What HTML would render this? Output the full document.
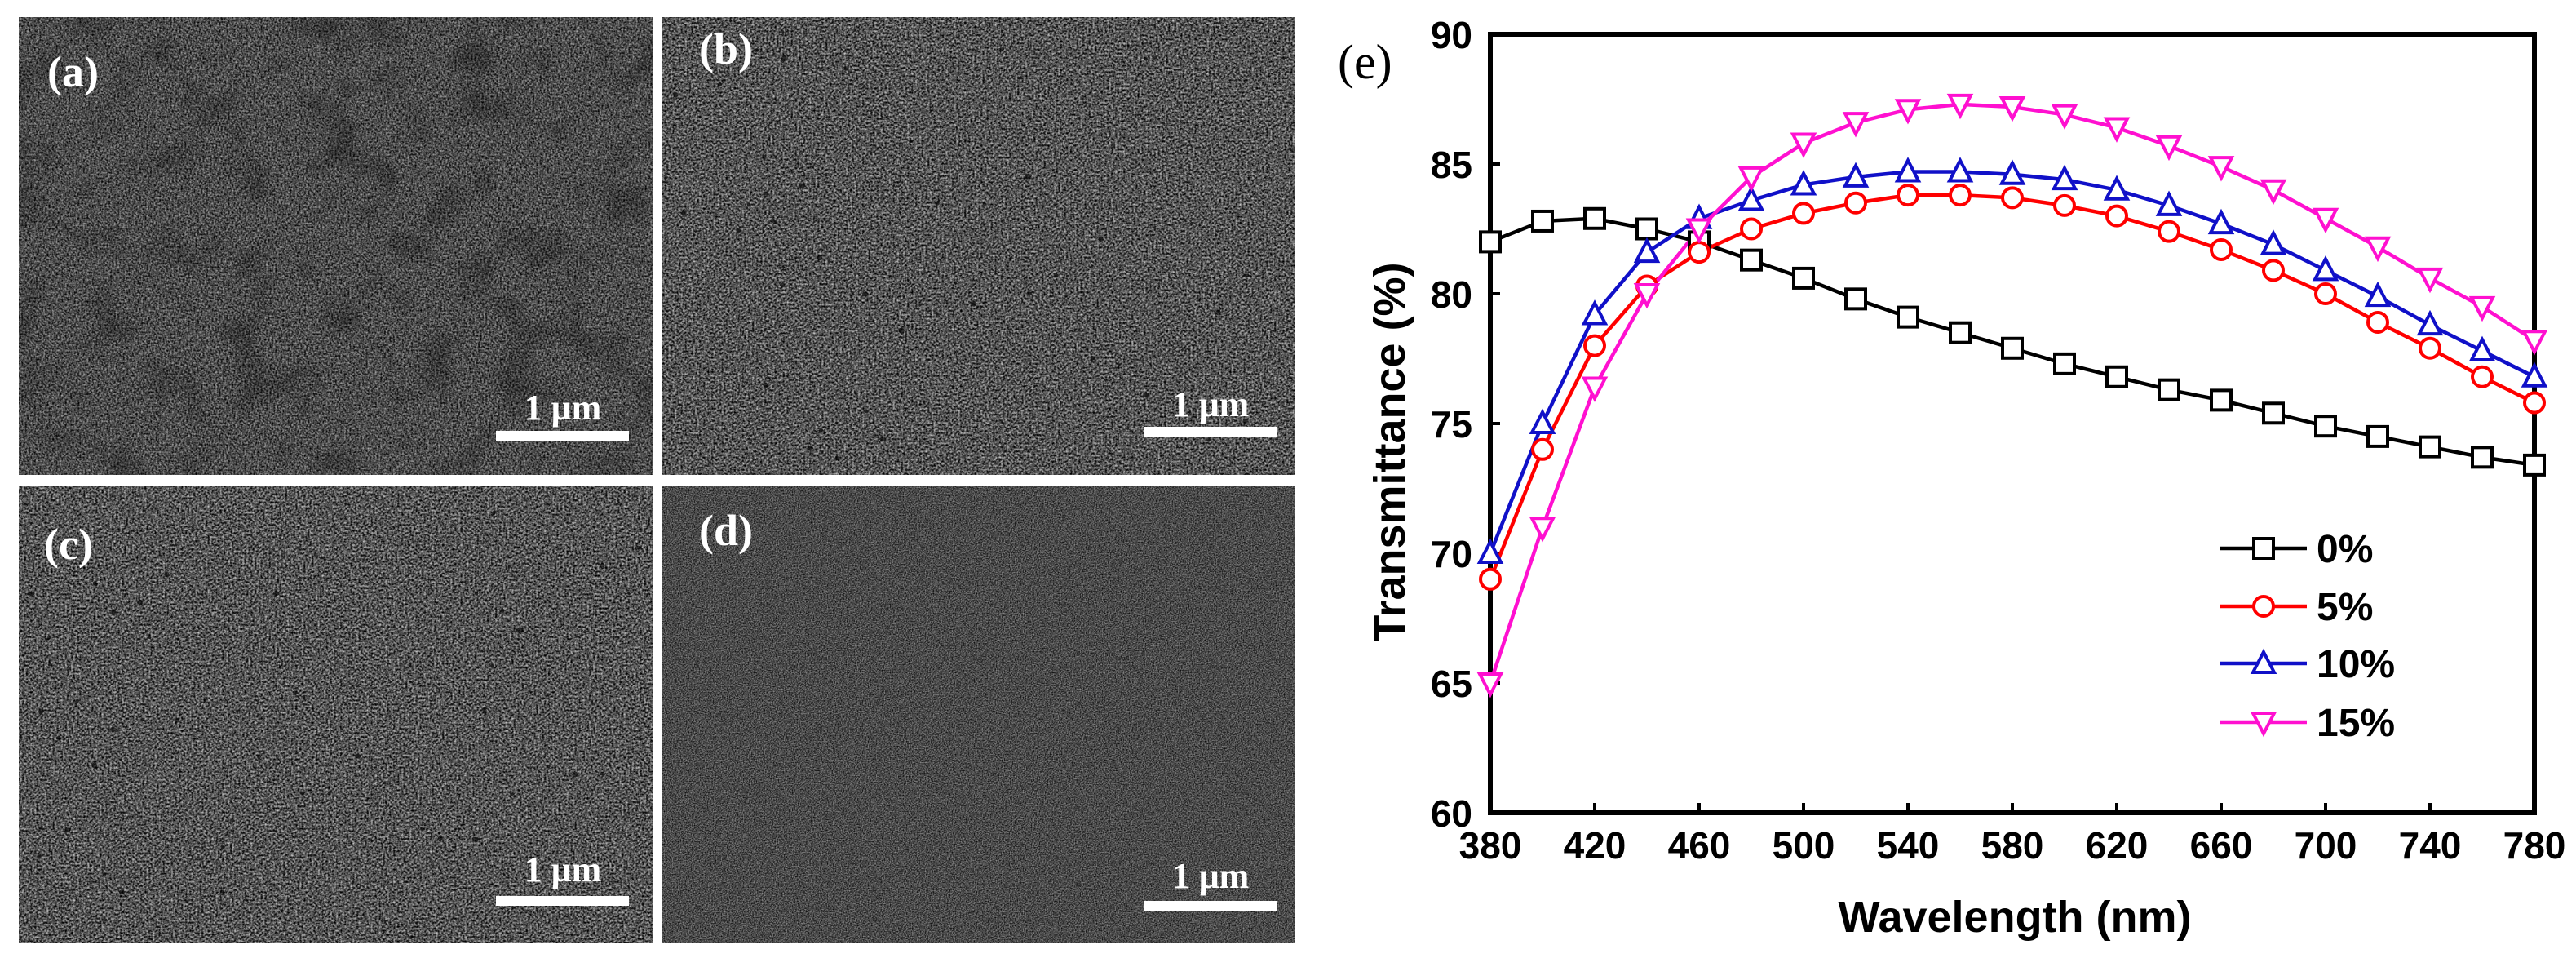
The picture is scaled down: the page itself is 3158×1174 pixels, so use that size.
<!DOCTYPE html>
<html><head><meta charset="utf-8">
<style>
html,body{margin:0;padding:0;background:#fff;}
body{width:3158px;height:1174px;position:relative;overflow:hidden;font-family:"Liberation Sans",sans-serif;}
svg{position:absolute;left:0;top:0;}
</style></head>
<body>
<svg width="3158" height="1174" viewBox="0 0 3158 1174">
<defs>
  <filter id="semA" x="0" y="0" width="100%" height="100%" color-interpolation-filters="sRGB">
    <feTurbulence type="fractalNoise" baseFrequency="0.45" numOctaves="2" seed="3" result="n"/>
    <feColorMatrix in="n" type="matrix" values="1.0 0 0 0 -0.2  1.0 0 0 0 -0.2  1.0 0 0 0 -0.2  0 0 0 0 1" result="g"/>
    <feTurbulence type="fractalNoise" baseFrequency="0.018" numOctaves="2" seed="7" result="b"/>
    <feColorMatrix in="b" type="matrix" values="1 0 0 0 0  1 0 0 0 0  1 0 0 0 0  0 0 0 0 1" result="bg"/>
    <feComponentTransfer in="bg" result="bm"><feFuncR type="table" tableValues="1 1 1 1 0.85 0.7 0.55"/><feFuncG type="table" tableValues="1 1 1 1 0.85 0.7 0.55"/><feFuncB type="table" tableValues="1 1 1 1 0.85 0.7 0.55"/></feComponentTransfer>
    <feBlend in="g" in2="bm" mode="multiply"/>
  </filter>
  <filter id="semB" x="0" y="0" width="100%" height="100%" color-interpolation-filters="sRGB">
    <feTurbulence type="fractalNoise" baseFrequency="0.4" numOctaves="2" seed="11" result="n"/>
    <feColorMatrix in="n" type="matrix" values="1.2 0 0 0 -0.27  1.2 0 0 0 -0.27  1.2 0 0 0 -0.27  0 0 0 0 1" result="g"/>
    <feTurbulence type="fractalNoise" baseFrequency="0.09" numOctaves="1" seed="5" result="b"/>
    <feColorMatrix in="b" type="matrix" values="1 0 0 0 0  1 0 0 0 0  1 0 0 0 0  0 0 0 0 1" result="bg"/>
    <feComponentTransfer in="bg" result="bm"><feFuncR type="discrete" tableValues="1 1 1 1 1 1 0.35 0.25"/><feFuncG type="discrete" tableValues="1 1 1 1 1 1 0.35 0.25"/><feFuncB type="discrete" tableValues="1 1 1 1 1 1 0.35 0.25"/></feComponentTransfer>
    <feBlend in="g" in2="bm" mode="multiply"/>
  </filter>
  <filter id="semD" x="0" y="0" width="100%" height="100%" color-interpolation-filters="sRGB">
    <feTurbulence type="fractalNoise" baseFrequency="0.7" numOctaves="1" seed="2" result="n"/>
    <feColorMatrix in="n" type="matrix" values="0.9 0 0 0 -0.16  0.9 0 0 0 -0.16  0.9 0 0 0 -0.16  0 0 0 0 1"/>
  </filter>
</defs>

<g>
  <rect x="23" y="21" width="777" height="561" fill="#4a4a4a" filter="url(#semA)"/>
  <text x="58" y="106" fill="#fff" font-family="Liberation Serif, serif" font-weight="bold" font-size="54">(a)</text>
  <text x="690" y="514" fill="#fff" text-anchor="middle" font-family="Liberation Serif, serif" font-weight="bold" font-size="44">1 μm</text>
  <rect x="608" y="528" width="163" height="12" fill="#fff"/>
</g>
<g>
  <rect x="812" y="21" width="775" height="561" fill="#4a4a4a" filter="url(#semB)"/>
  <text x="857" y="78" fill="#fff" font-family="Liberation Serif, serif" font-weight="bold" font-size="54">(b)</text>
  <text x="1484" y="510" fill="#fff" text-anchor="middle" font-family="Liberation Serif, serif" font-weight="bold" font-size="44">1 μm</text>
  <rect x="1402" y="523" width="163" height="12" fill="#fff"/>
</g>
<g>
  <rect x="23" y="595" width="777" height="561" fill="#4a4a4a" filter="url(#semB)"/>
  <text x="54" y="685" fill="#fff" font-family="Liberation Serif, serif" font-weight="bold" font-size="54">(c)</text>
  <text x="690" y="1080" fill="#fff" text-anchor="middle" font-family="Liberation Serif, serif" font-weight="bold" font-size="44">1 μm</text>
  <rect x="608" y="1098" width="163" height="12" fill="#fff"/>
</g>
<g>
  <rect x="812" y="595" width="775" height="561" fill="#4a4a4a" filter="url(#semD)"/>
  <text x="857" y="668" fill="#fff" font-family="Liberation Serif, serif" font-weight="bold" font-size="54">(d)</text>
  <text x="1484" y="1088" fill="#fff" text-anchor="middle" font-family="Liberation Serif, serif" font-weight="bold" font-size="44">1 μm</text>
  <rect x="1402" y="1104" width="163" height="12" fill="#fff"/>
</g>

<g id="chart">
  <text x="1640" y="96" font-family="Liberation Serif, serif" font-size="60">(e)</text>
  <text transform="translate(1722,554) rotate(-90)" text-anchor="middle" font-weight="bold" font-size="54">Transmittance (%)</text>
  <text x="2470" y="1142" text-anchor="middle" font-weight="bold" font-size="54">Wavelength (nm)</text>
</g>
</svg>
<script>
const wavelengths = [380,400,420,440,460,480,500,520,540,560,580,600,620,640,660,680,700,720,740,760,780];
const t0  = [82.0,82.8,82.9,82.5,82.0,81.3,80.6,79.8,79.1,78.5,77.9,77.3,76.8,76.3,75.9,75.4,74.9,74.5,74.1,73.7,73.4];
const t5  = [69.0,74.0,78.0,80.3,81.6,82.5,83.1,83.5,83.8,83.8,83.7,83.4,83.0,82.4,81.7,80.9,80.0,78.9,77.9,76.8,75.8];
const t10 = [70.0,75.0,79.2,81.6,82.9,83.6,84.2,84.5,84.7,84.7,84.6,84.4,84.0,83.4,82.7,81.9,80.9,79.9,78.8,77.8,76.8];
const t15 = [65.0,71.0,76.4,80.0,82.5,84.5,85.8,86.6,87.1,87.3,87.2,86.9,86.4,85.7,84.9,84.0,82.9,81.8,80.6,79.5,78.2];
const seriesLabels = ["0%","5%","10%","15%"];
const xTicks = [380,420,460,500,540,580,620,660,700,740,780];
const yTicks = [60,65,70,75,80,85,90];

const NS = "http://www.w3.org/2000/svg";
const chart = document.getElementById("chart");
const L = 1827, R = 3107, T = 42, B = 996;
const xMin = 380, xMax = 780, yMin = 60, yMax = 90;
function xs(v){ return L + (v - xMin) / (xMax - xMin) * (R - L); }
function ys(v){ return B - (v - yMin) / (yMax - yMin) * (B - T); }
function mk(tag, attrs){ const e = document.createElementNS(NS, tag); for (const k in attrs) e.setAttribute(k, attrs[k]); chart.appendChild(e); return e; }

let frame = mk("rect", {x:L, y:T, width:R-L, height:B-T, fill:"none", stroke:"#000", "stroke-width":6});



xTicks.forEach(v => {
  const tk = mk("line", {x1:xs(v), x2:xs(v), y1:B, y2:B-12, stroke:"#000", "stroke-width":4});
  
  
  const lb = mk("text", {x:xs(v), y:B+56, "text-anchor":"middle", "font-weight":"bold", "font-size":46});
  lb.textContent = v;
  
  
});
yTicks.forEach(v => {
  const tk = mk("line", {x1:L, x2:L+12, y1:ys(v), y2:ys(v), stroke:"#000", "stroke-width":4});
  
  
  const lb = mk("text", {x:L-22, y:ys(v)+17, "text-anchor":"end", "font-weight":"bold", "font-size":46});
  lb.textContent = v;
  
  
});

const allSeries = [t0, t5, t10, t15];
const colors = ["#000000","#ff0000","#1010c8","#ff10d0"];
const shapes = ["square","circle","up","down"];
const names = ["series-0pct","series-5pct","series-10pct","series-15pct"];

function marker(shape, cx, cy, color){
  const s = 12;
  let e;
  if (shape === "square") e = mk("rect", {x:cx-s, y:cy-s, width:2*s, height:2*s});
  else if (shape === "circle") e = mk("circle", {cx:cx, cy:cy, r:s});
  else if (shape === "up") e = mk("polygon", {points:`${cx},${cy-s-2} ${cx+s+1},${cy+s-1} ${cx-s-1},${cy+s-1}`});
  else e = mk("polygon", {points:`${cx},${cy+s+2} ${cx+s+1},${cy-s+1} ${cx-s-1},${cy-s+1}`});
  e.setAttribute("fill", "#fff");
  e.setAttribute("stroke", color);
  e.setAttribute("stroke-width", 4);
  return e;
}

allSeries.forEach((vals, i) => {
  const pts = vals.map((v, j) => xs(wavelengths[j]) + "," + ys(v)).join(" ");
  const line = mk("polyline", {points:pts, fill:"none", stroke:colors[i], "stroke-width":4.5, "stroke-linejoin":"round"});
  
  
});
allSeries.forEach((vals, i) => {
  vals.forEach((v, j) => {
    const m = marker(shapes[i], xs(wavelengths[j]), ys(v), colors[i]);
    
    
  });
});

const legendY = [672, 743, 813, 885];
seriesLabels.forEach((lab, i) => {
  const ln = mk("line", {x1:2722, x2:2828, y1:legendY[i], y2:legendY[i], stroke:colors[i], "stroke-width":4.5});
  
  
  const m = marker(shapes[i], 2775, legendY[i], colors[i]);
  
  
  const t = mk("text", {x:2840, y:legendY[i]+17, "font-weight":"bold", "font-size":48});
  t.textContent = lab;
  
  
});
</script>
</body></html>
